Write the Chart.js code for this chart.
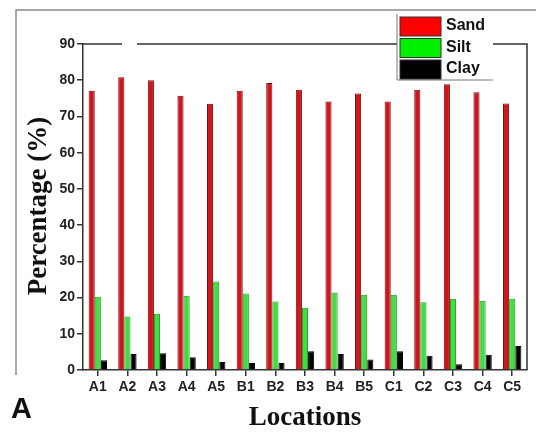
<!DOCTYPE html>
<html>
<head>
<meta charset="utf-8">
<script src="https://cdn.jsdelivr.net/npm/chart.js@4/dist/chart.umd.min.js"></script>
<style>
  html, body { margin: 0; padding: 0; background: #fff; }
  #wrap { width: 536px; height: 432px; position: relative; }
</style>
</head>
<body>
<div id="wrap"><canvas id="c"></canvas></div>
<script>
const locations = ["A1","A2","A3","A4","A5","B1","B2","B3","B4","B5","C1","C2","C3","C4","C5"];
const sand = [77.1, 80.8, 80.0, 75.7, 73.5, 77.1, 79.2, 77.4, 74.1, 76.3, 74.1, 77.4, 78.9, 76.7, 73.6];
const silt = [20.2, 14.8, 15.5, 20.5, 24.4, 21.1, 18.9, 17.2, 21.4, 20.8, 20.8, 18.7, 19.7, 19.1, 19.7];
const clay = [2.7, 4.4, 4.6, 3.5, 2.2, 1.9, 1.9, 5.2, 4.4, 2.9, 5.2, 3.9, 1.6, 4.2, 6.6];
const yTicks = [0, 10, 20, 30, 40, 50, 60, 70, 80, 90];

const legendItems = [
  { label: "Sand", color: "#ff0000" },
  { label: "Silt", color: "#00f000" },
  { label: "Clay", color: "#000000" },
];

// frame, top/right axis lines, legend and titles
const decorations = {
  id: "decorations",
  afterDraw(chart) {
    const { ctx, chartArea: { left, right, top, bottom } } = chart;
    ctx.save();

    // outer gray frame
    ctx.strokeStyle = "#8a8a8a";
    ctx.lineWidth = 1.5;
    ctx.beginPath();
    ctx.moveTo(16, 375);
    ctx.lineTo(16, 10);
    ctx.lineTo(536, 10);
    ctx.stroke();

    // top and right box lines
    ctx.strokeStyle = "#333";
    ctx.lineWidth = 1.5;
    ctx.beginPath();
    ctx.moveTo(left, top);
    ctx.lineTo(122, top);
    ctx.moveTo(137, top);
    ctx.lineTo(right, top);
    ctx.lineTo(right, bottom);
    ctx.stroke();

    // legend
    const lx = 397, ly = 14, lw = 96, lh = 66;
    ctx.fillStyle = "#fff";
    ctx.fillRect(lx, ly, lw, lh);
    ctx.strokeStyle = "#777";
    ctx.lineWidth = 1;
    ctx.beginPath();
    ctx.moveTo(lx, ly);
    ctx.lineTo(lx, ly + lh);
    ctx.lineTo(lx + lw, ly + lh);
    ctx.stroke();
    ctx.font = "bold 16px 'Liberation Sans', Arial, sans-serif";
    ctx.textBaseline = "middle";
    ctx.textAlign = "left";
    legendItems.forEach((item, i) => {
      const y = 17 + i * 21.5;
      ctx.fillStyle = item.color;
      ctx.fillRect(400, y, 41, 19);
      ctx.strokeStyle = "#333";
      ctx.strokeRect(400, y, 41, 19);
      ctx.fillStyle = "#111";
      ctx.fillText(item.label, 446, y + 9);
    });

    // axis titles
    ctx.fillStyle = "#111";
    ctx.font = "bold 27px 'Liberation Serif', 'Times New Roman', serif";
    ctx.textAlign = "center";
    ctx.textBaseline = "alphabetic";
    ctx.fillText("Locations", 305, 425);

    ctx.save();
    ctx.translate(46, 206);
    ctx.rotate(-Math.PI / 2);
    ctx.fillText("Percentage (%)", 0, 0);
    ctx.restore();

    // panel letter
    ctx.font = "bold 29px 'Liberation Sans', Arial, sans-serif";
    ctx.textAlign = "left";
    ctx.fillText("A", 11, 418);

    ctx.restore();
  },
};

new Chart(document.getElementById("c"), {
  type: "bar",
  data: {
    labels: locations,
    datasets: [
      { label: "Sand", data: sand, backgroundColor: "#d0161c", borderColor: "#7a0c0c", borderWidth: 1 },
      { label: "Silt", data: silt, backgroundColor: "#3fdf3f", borderColor: "#239a23", borderWidth: 1 },
      { label: "Clay", data: clay, backgroundColor: "#000000", borderColor: "#000000", borderWidth: 1 },
    ],
  },
  plugins: [decorations],
  options: {
    responsive: true,
    maintainAspectRatio: false,
    animation: false,
    layout: { padding: { left: 0, right: 9, top: 44, bottom: 0 } },
    datasets: { bar: { categoryPercentage: 0.62, barPercentage: 1 } },
    plugins: {
      legend: { display: false },
      tooltip: { enabled: false },
    },
    scales: {
      x: {
        afterFit(scale) { scale.height = 62; },
        grid: { display: true, drawOnChartArea: false, offset: false, tickLength: 6, color: "#333", lineWidth: 1.5 },
        border: { display: true, color: "#333", width: 1.5 },
        ticks: {
          padding: 3,
          color: "#222",
          font: { family: "'Liberation Sans', Arial, sans-serif", size: 14, weight: "bold" },
        },
      },
      y: {
        min: 0,
        max: 90,
        afterFit(scale) { scale.width = 83; },
        afterBuildTicks(scale) { scale.ticks = yTicks.map((v) => ({ value: v })); },
        grid: { display: true, drawOnChartArea: false, tickLength: 6, color: "#333", lineWidth: 1.5 },
        border: { display: true, color: "#333", width: 1.5 },
        ticks: {
          padding: 2,
          color: "#222",
          font: { family: "'Liberation Sans', Arial, sans-serif", size: 14, weight: "bold" },
        },
      },
    },
  },
});
</script>
</body>
</html>
